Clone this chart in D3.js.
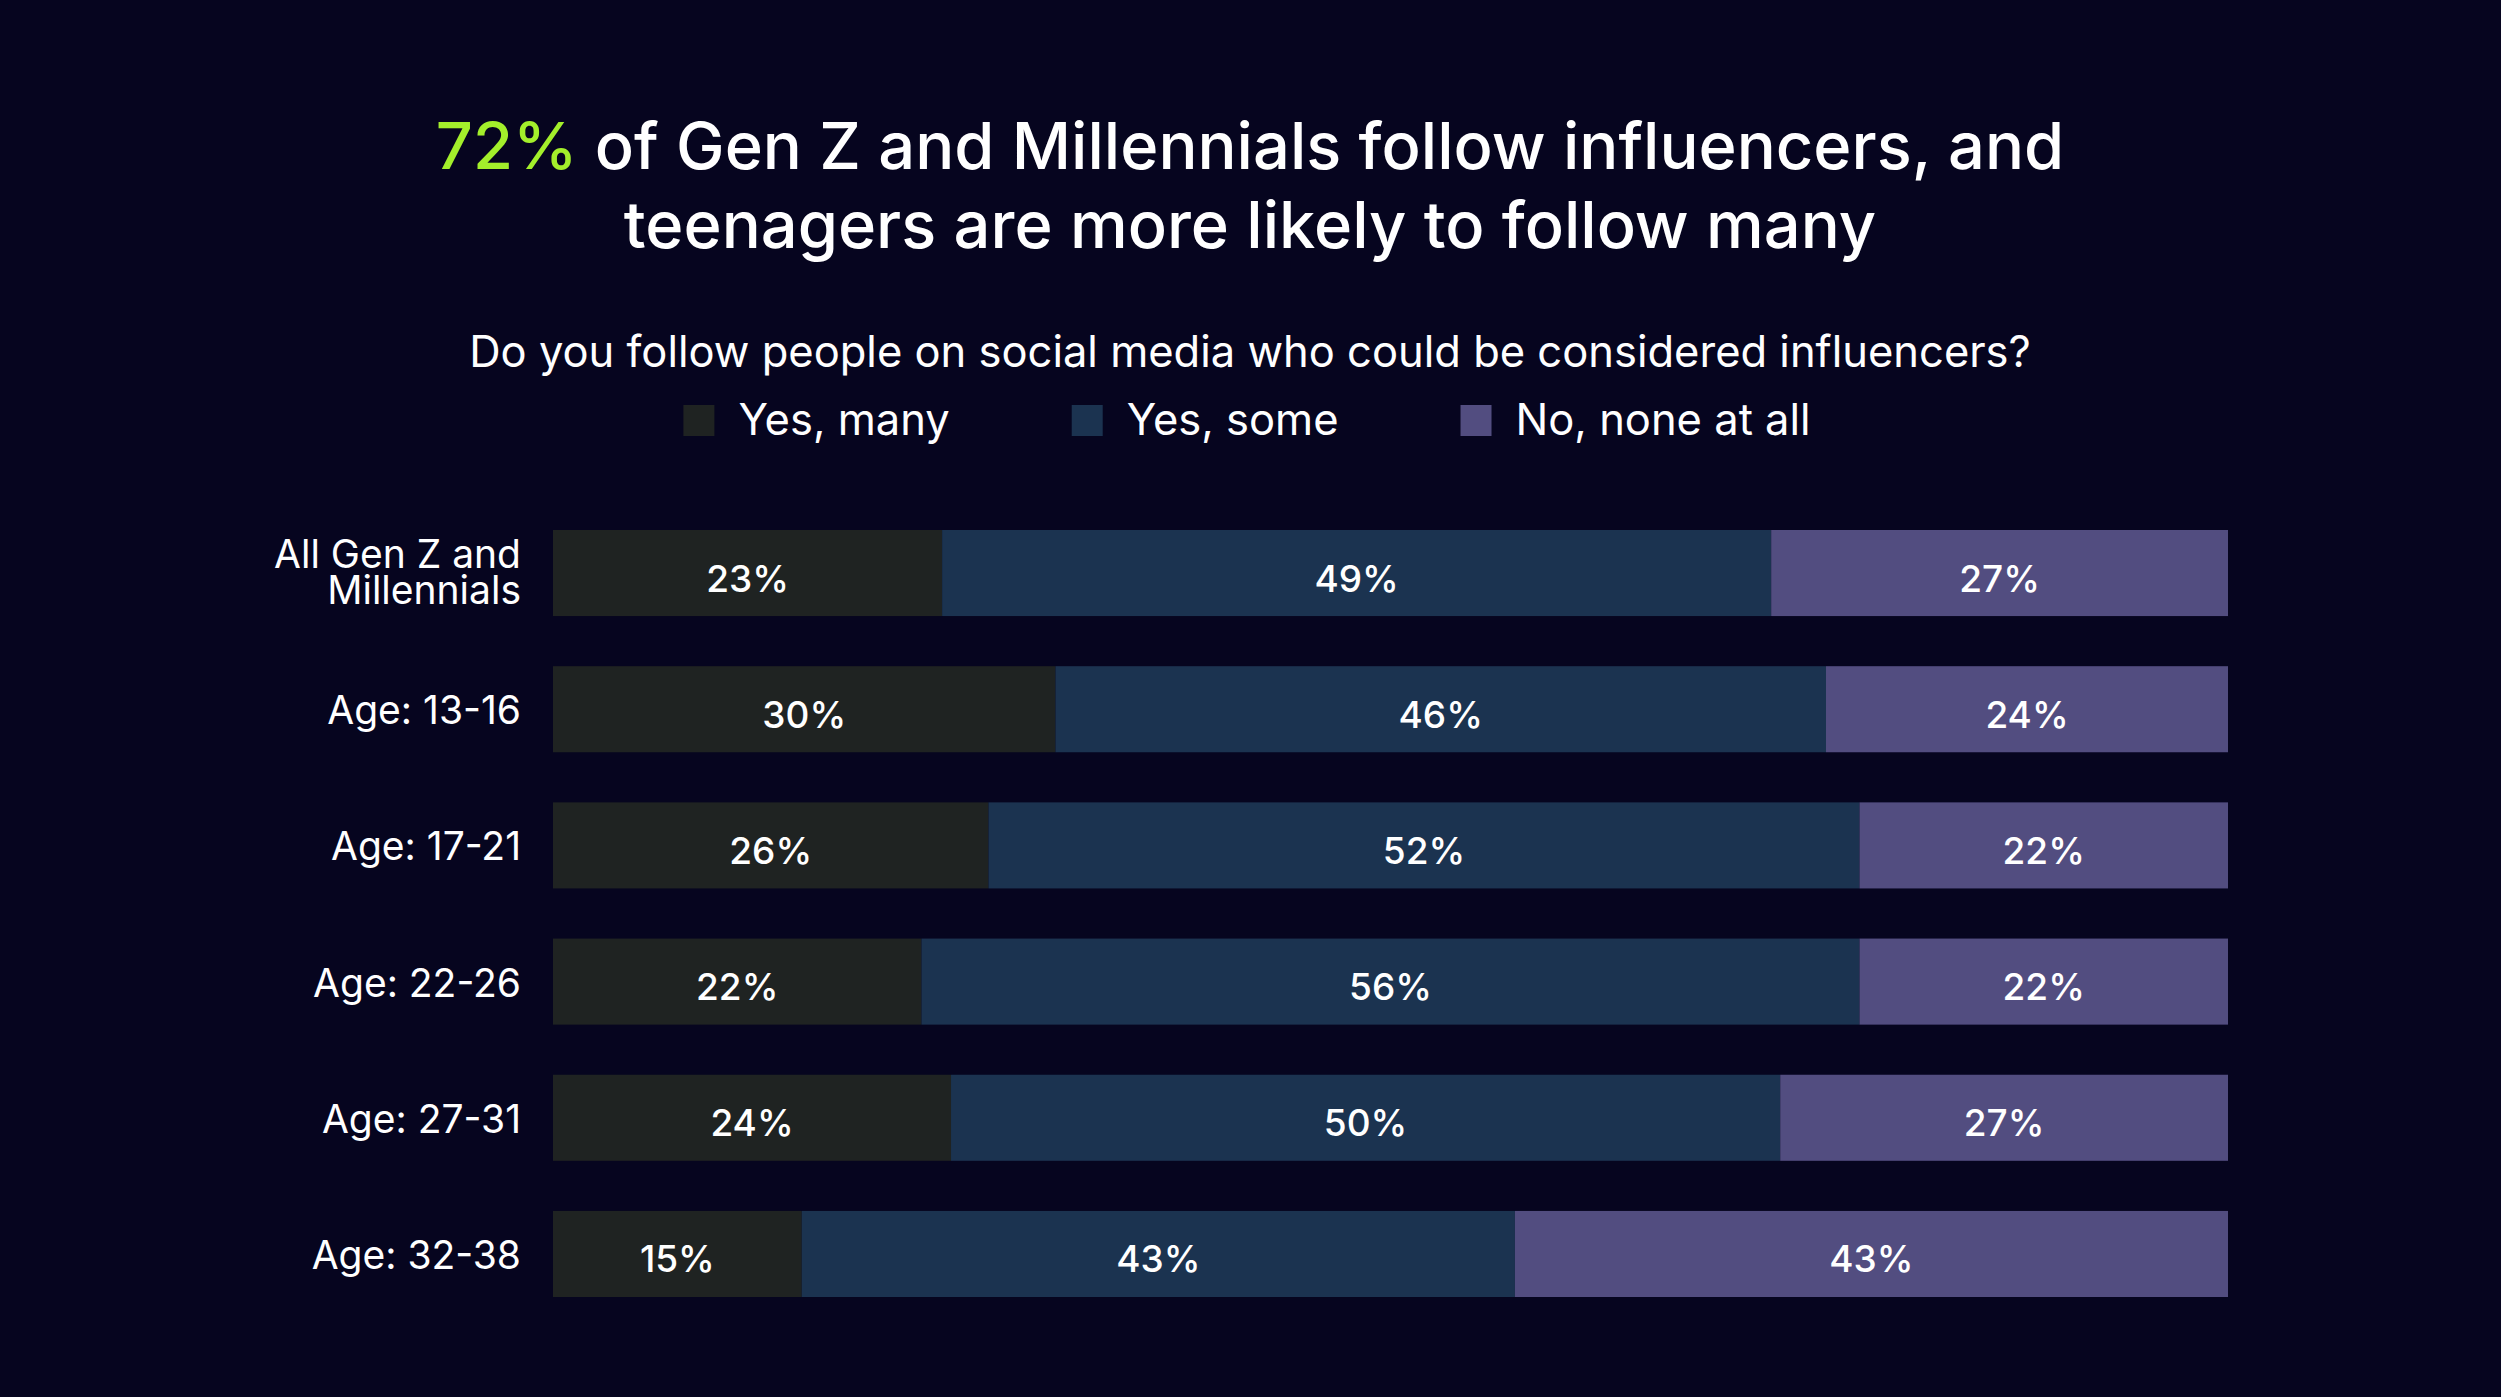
<!DOCTYPE html>
<html><head><meta charset="utf-8">
<script src="https://cdn.jsdelivr.net/npm/d3@7"></script>
<style>html,body{margin:0;padding:0;background:#06051f;overflow:hidden}svg{display:block}</style>
</head><body>
<script>
// ---- data ----
const categories = ["All Gen Z and\nMillennials", "Age: 13-16", "Age: 17-21", "Age: 22-26", "Age: 27-31", "Age: 32-38"];
const seriesNames = ["Yes, many", "Yes, some", "No, none at all"];
const yesMany   = [23, 30, 26, 22, 24, 15];
const yesSome   = [49, 46, 52, 56, 50, 43];
const noneAtAll = [27, 24, 22, 22, 27, 43];
const seriesColors = ["#1f2322", "#1b3350", "#524d80"];
const titleHighlight = "72%";
const titleLine1Rest = " of Gen Z and Millennials follow influencers, and";
const titleLine2 = "teenagers are more likely to follow many";
const subtitle = "Do you follow people on social media who could be considered influencers?";

// ---- setup ----
const W = 2501, H = 1397;
const FONT = "Inter, 'Noto Sans', sans-serif";
const svg = d3.select("body").append("svg").attr("width", W).attr("height", H);
svg.append("rect").attr("width", W).attr("height", H).attr("fill", "#06051f");

const seriesValues = [yesMany, yesSome, noneAtAll];
const rows = categories.map((c, i) => {
  const o = { cat: c };
  seriesNames.forEach((s, k) => o[s] = seriesValues[k][i]);
  return o;
});
const stacked = d3.stack().keys(seriesNames).offset(d3.stackOffsetExpand)(rows);

const x = d3.scaleLinear().domain([0, 1]).range([553, 2228]);
const y = d3.scaleBand().domain(categories).range([530, 1297]).paddingInner(0.368).paddingOuter(0);
const color = d3.scaleOrdinal().domain(seriesNames).range(seriesColors);

// ---- title ----
const t1 = svg.append("text").attr("x", 1250).attr("y", 169).attr("text-anchor", "middle")
  .attr("font-family", FONT).attr("font-size", 65).attr("font-weight", 500).attr("fill", "#ffffff");
t1.append("tspan").attr("fill", "#a3ef2b").text(titleHighlight);
t1.append("tspan").text(titleLine1Rest);
svg.append("text").attr("x", 1250).attr("y", 248).attr("text-anchor", "middle")
  .attr("font-family", FONT).attr("font-size", 65).attr("font-weight", 500).attr("fill", "#ffffff")
  .text(titleLine2);

svg.append("text").attr("x", 1250).attr("y", 367).attr("text-anchor", "middle")
  .attr("font-family", FONT).attr("font-size", 43.5).attr("fill", "#ffffff").text(subtitle);

// ---- legend ----
const legend = svg.append("g");
const items = legend.selectAll("g").data(seriesNames).join("g");
items.append("rect").attr("width", 31).attr("height", 31).attr("y", 405).attr("fill", d => color(d));
items.append("text").attr("x", 55).attr("y", 435).attr("font-family", FONT).attr("font-size", 43.5)
  .attr("fill", "#ffffff").text(d => d);
let widths = [];
items.each(function () { widths.push(55 + d3.select(this).select("text").node().getComputedTextLength()); });
const gap = 122;
const total = d3.sum(widths) + gap * (widths.length - 1);
let cx = 1247 - total / 2;
items.attr("transform", (d, i) => { const t = `translate(${cx},0)`; cx += widths[i] + gap; return t; });

// ---- bars ----
const layers = svg.append("g").selectAll("g").data(stacked).join("g").attr("fill", d => color(d.key));
layers.selectAll("rect").data(d => d).join("rect")
  .attr("x", d => x(d[0])).attr("width", d => x(d[1]) - x(d[0]))
  .attr("y", d => y(d.data.cat)).attr("height", y.bandwidth());

const labelLayers = svg.append("g").selectAll("g").data(stacked).join("g");
labelLayers.selectAll("text").data(d => d.map(v => ({ v, key: d.key }))).join("text")
  .attr("x", d => (x(d.v[0]) + x(d.v[1])) / 2)
  .attr("y", d => y(d.v.data.cat) + y.bandwidth() / 2)
  .attr("dy", "0.5em").attr("text-anchor", "middle")
  .attr("font-family", FONT).attr("font-size", 37).attr("font-weight", 500).attr("fill", "#ffffff")
  .text(d => d.v.data[d.key] + "%");

// ---- category axis ----
const yAxis = d3.axisLeft(y).tickSize(0).tickPadding(0);
const ax = svg.append("g").attr("transform", "translate(521,0)").call(yAxis);
ax.select(".domain").remove();
ax.selectAll(".tick text").each(function (d) {
  const t = d3.select(this);
  t.text(null).attr("font-family", FONT).attr("font-size", 39).attr("fill", "#ffffff")
    .attr("text-anchor", "end").attr("dy", null);
  const lines = d.split("\n");
  const lh = 36.5;
  const first = 15 - (lines.length - 1) * lh / 2 - 2;
  lines.forEach((ln, k) => {
    t.append("tspan").attr("x", 0).attr("y", (lines.length > 1 ? first + k * lh : 15)).text(ln);
  });
});
</script>
</body></html>
